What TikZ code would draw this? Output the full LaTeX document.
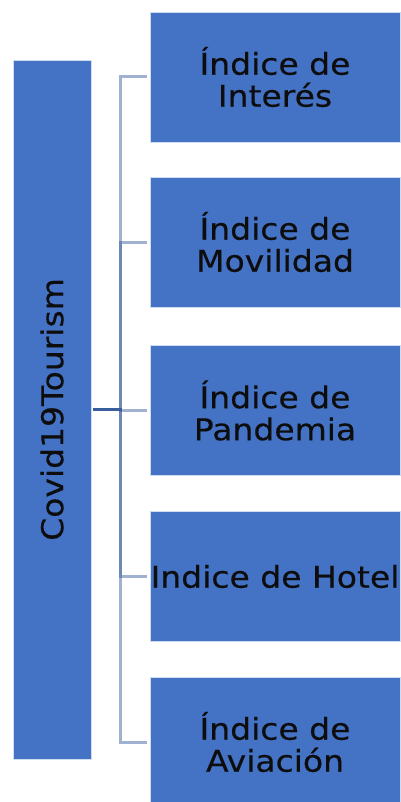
\documentclass[tikz,border=0pt]{standalone}
\usepackage{fontspec}
\newfontfamily\labfont[FakeStretch=1.1,FakeBold=0.4]{DejaVu Sans}
\definecolor{boxblue}{HTML}{4472C4}
\definecolor{linkblue}{HTML}{2F5597}
\definecolor{txt}{HTML}{0D0D0D}
\begin{document}
\begin{tikzpicture}[x=1pt,y=-1pt,
  boxstyle/.style={draw=white!75!boxblue,line width=0.8pt,fill=boxblue,text=txt,
    font=\labfont\fontsize{30}{32}\selectfont,align=center,inner sep=0pt},
  childbox/.style={boxstyle,minimum width=250pt,minimum height=130pt},
  link/.style={draw=linkblue,line width=3pt,opacity=0.45,shorten <=2pt,shorten >=3pt}]
\useasboundingbox (0,0) rectangle (401,802);
\node[boxstyle,minimum width=78pt,minimum height=699pt] (root) at (52,409.5) {};
\node[rotate=90,text=txt,font=\labfont\fontsize{30}{32}\selectfont] (rootlabel) at (root.center) {Covid19Tourism};
\node[childbox] (c1) at (275,77) {Índice de\\Interés};
\node[childbox] (c2) at (275,242) {Índice de\\Movilidad};
\node[childbox] (c3) at (275,410.5) {Índice de\\Pandemia};
\node[childbox] (c4) at (275,576.5) {Indice de Hotel};
\node[childbox] (c5) at (275,742) {Índice de\\Aviación};
\coordinate (bus) at (120,409.5);
\foreach \c in {c1,c2,c3,c4,c5}{
  \draw[link] (root.east) -- (bus) |- (\c.west);
}
\end{tikzpicture}
\end{document}
